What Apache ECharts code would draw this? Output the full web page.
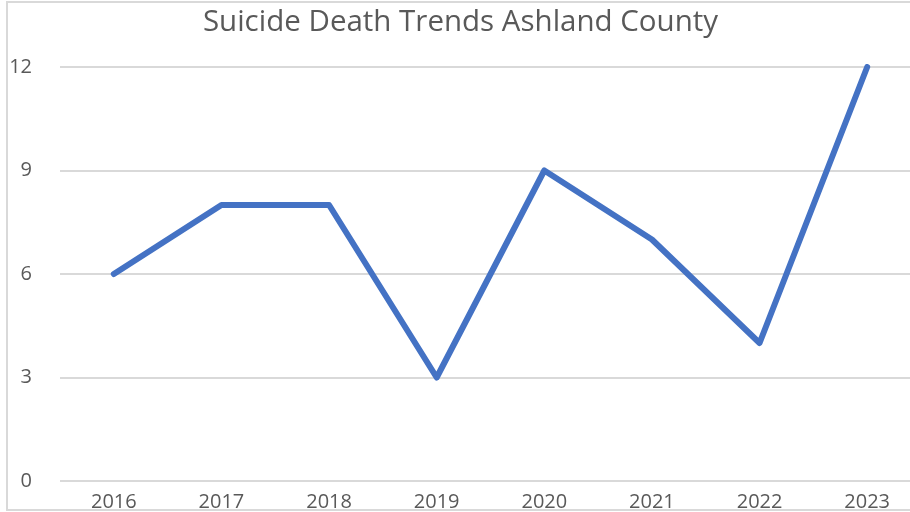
<!DOCTYPE html>
<html>
<head>
<meta charset="utf-8">
<script src="https://cdn.jsdelivr.net/npm/echarts@6/dist/echarts.min.js"></script>
<style>
  html, body { margin: 0; padding: 0; background: #fff; overflow: hidden; }
  /* the original chart is cut off on the right, so the canvas is a bit wider than the window */
  #chart { width: 921px; height: 512px; }
</style>
</head>
<body>
<div id="chart"></div>
<script>
// data
const years = ['2016', '2017', '2018', '2019', '2020', '2021', '2022', '2023']
const deaths = [6, 8, 8, 3, 9, 7, 4, 12]
const yTicks = [0, 3, 6, 9, 12]

const chart = echarts.init(document.getElementById('chart'))
const labelFont = '"Open Sans", "Noto Sans", sans-serif'

const option = {
    animation: false,
    backgroundColor: '#fff',
    title: {
        text: 'Suicide Death Trends Ashland County',
        left: 'center',
        top: 3,
        textStyle: {
            fontFamily: labelFont,
            fontSize: 29.5,
            fontWeight: 'normal',
            color: '#595959'
        }
    },
    grid: {
        left: 60,
        right: 0,
        top: 67,
        bottom: 31
    },
    graphic: [{
        // outer chart border
        type: 'rect',
        shape: { x: 7, y: 2, width: 940, height: 508 },
        style: { fill: 'none', stroke: '#d9d9d9', lineWidth: 2 },
        silent: true
    }],
    xAxis: {
        type: 'category',
        data: years,
        boundaryGap: true,
        axisLine: { show: false },
        axisTick: { show: false },
        axisLabel: {
            margin: 11,
            fontFamily: labelFont,
            fontSize: 20,
            color: '#595959'
        }
    },
    yAxis: {
        type: 'value',
        min: yTicks[0],
        max: yTicks[yTicks.length - 1],
        interval: 3,
        axisLine: { show: false },
        axisTick: { show: false },
        axisLabel: {
            margin: 28,
            fontFamily: labelFont,
            fontSize: 20,
            color: '#595959'
        },
        splitLine: {
            lineStyle: { color: '#d9d9d9', width: 2 }
        }
    },
    series: [{
        type: 'line',
        data: deaths,
        symbol: 'none',
        lineStyle: {
            color: '#4472c4',
            width: 6,
            cap: 'round',
            join: 'round'
        }
    }]
}

chart.setOption(option)
</script>
</body>
</html>
